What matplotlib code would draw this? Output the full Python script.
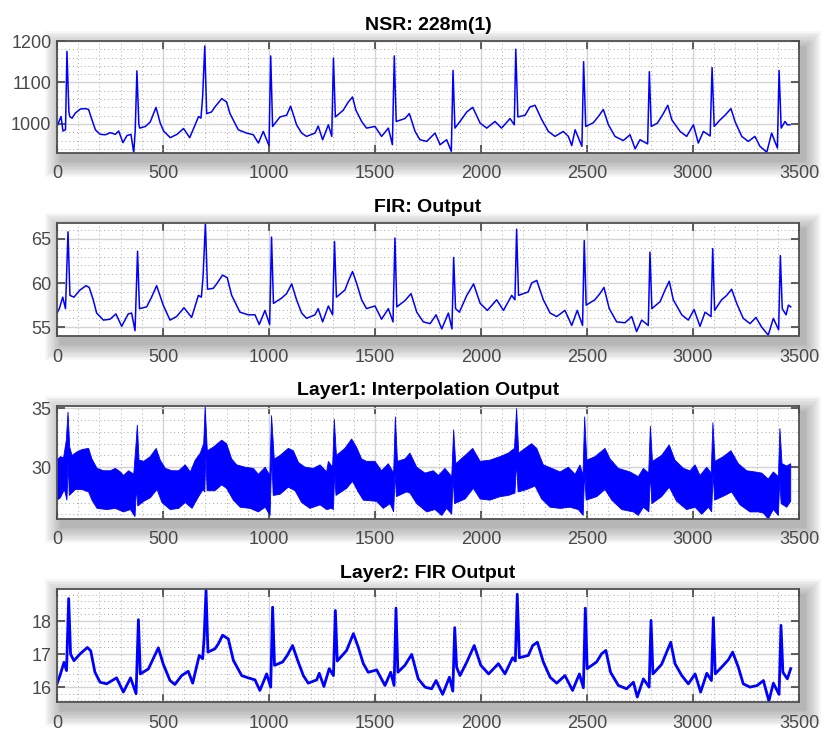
import matplotlib
matplotlib.use('Agg')
import matplotlib.pyplot as plt
from matplotlib.patches import Rectangle
from matplotlib.ticker import MultipleLocator
import numpy as np

plt.rcParams['font.family'] = ['Liberation Sans', 'DejaVu Sans']

# ---------------- data ----------------
titles = ["NSR: 228m(1)", "FIR: Output", "Layer1: Interpolation Output", "Layer2: FIR Output"]
x_ticks = [0, 500, 1000, 1500, 2000, 2500, 3000, 3500]

nsr_x = [0, 19, 28, 40, 47, 56, 60, 71, 86, 110, 134, 149, 165, 181, 204, 228, 252, 275, 291, 311,
         330, 349, 362, 369, 377, 386, 390, 417, 440, 467, 487, 503, 534, 566, 597, 626, 645, 668, 679,
         687, 697, 706, 729, 745, 777, 800, 816, 855, 894, 926, 950, 973, 1000, 1008, 1017, 1052, 1083,
         1102, 1130, 1154, 1177, 1217, 1232, 1253, 1280, 1296, 1304, 1313, 1350, 1374, 1394, 1410, 1437,
         1460, 1500, 1531, 1563, 1582, 1591, 1600, 1641, 1662, 1689, 1712, 1744, 1783, 1807, 1838, 1860,
         1868, 1877, 1901, 1933, 1961, 1996, 2027, 2066, 2097, 2137, 2157, 2164, 2174, 2208, 2231, 2255,
         2287, 2318, 2349, 2388, 2412, 2428, 2444, 2476, 2484, 2494, 2530, 2558, 2577, 2601, 2632, 2671,
         2703, 2727, 2750, 2786, 2794, 2803, 2832, 2860, 2881, 2900, 2939, 2970, 3002, 3025, 3049, 3081,
         3090, 3100, 3128, 3151, 3179, 3198, 3230, 3261, 3292, 3316, 3348, 3371, 3398, 3406, 3416, 3434,
         3445, 3457]
nsr_y = [994, 1018, 983, 986, 1175, 1030, 1018, 1014, 1026, 1036, 1037, 1035, 1010, 986, 975, 974, 979, 975, 983, 955,
         972, 975, 931, 985, 1128, 1000, 990, 994, 1005, 1040, 1002, 983, 967, 975, 989, 967, 990, 1018, 1014,
         1066, 1188, 1025, 1029, 1041, 1061, 1053, 1025, 986, 978, 974, 954, 982, 948, 1164, 994, 1017, 1021,
         1043, 998, 978, 970, 978, 995, 962, 998, 970, 1159, 1017, 1033, 1053, 1065, 1033, 1006,
         990, 994, 970, 990, 950, 1164, 1006, 1013, 1025, 982, 962, 958, 978, 950, 962, 934,
         1129, 990, 1006, 1029, 1040, 1002, 990, 1006, 990, 1013, 998, 1180, 1017, 1021, 1041, 1045,
         1010, 982, 970, 982, 970, 948, 986, 946, 1150, 994, 1003, 1021, 1035, 998, 970, 960,
         974, 940, 962, 952, 1126, 994, 1002, 1025, 1045, 1010, 982, 970, 998, 954, 982, 971,
         1136, 994, 1010, 1021, 1037, 1006, 970, 958, 970, 946, 932, 978, 942, 1129, 990, 1006,
         998, 998]

fir_x = [0, 11, 27, 40, 52, 61, 80, 108, 137, 152, 171, 187, 219, 250, 278, 305, 336, 352, 368, 380,
         389, 423, 446, 470, 501, 533, 564, 599, 635, 667, 681, 689, 700, 710, 737, 753, 781, 803, 824,
         863, 902, 934, 954, 981, 1003, 1012, 1021, 1060, 1083, 1107, 1130, 1154, 1177, 1217, 1232, 1253,
         1280, 1300, 1309, 1318, 1358, 1374, 1394, 1413, 1437, 1460, 1500, 1531, 1563, 1585, 1594, 1603,
         1641, 1670, 1697, 1728, 1760, 1788, 1815, 1846, 1863, 1871, 1880, 1898, 1933, 1965, 1996, 2030,
         2074, 2106, 2145, 2160, 2168, 2177, 2223, 2239, 2263, 2294, 2326, 2357, 2396, 2428, 2454, 2479,
         2487, 2496, 2537, 2561, 2580, 2605, 2640, 2679, 2711, 2734, 2758, 2789, 2797, 2806, 2845, 2868,
         2888, 2907, 2947, 2978, 3005, 3033, 3057, 3085, 3093, 3102, 3135, 3159, 3182, 3206, 3237, 3269,
         3297, 3324, 3355, 3379, 3404, 3412, 3421, 3439, 3450, 3461]
fir_y = [56.6, 57.1, 58.4, 57.1, 65.8, 58.6, 58.4, 59.2, 59.7, 59.5, 58.1, 56.6, 55.8, 55.9, 56.5, 55.1, 56.5, 56.6, 54.6, 63.6,
         57.1, 57.3, 58.4, 59.7, 57.5, 55.8, 56.2, 57.2, 56.1, 58.6, 58.4, 60.7, 66.8, 59.3, 59.4, 59.9, 60.9, 60.6, 58.6,
         56.7, 56.4, 56.4, 55.3, 56.9, 55.3, 65.2, 57.7, 58.3, 58.8, 59.9, 58.1, 56.6, 56.0, 56.4, 57.1, 55.6,
         57.4, 56.4, 64.7, 58.4, 59.2, 60.2, 61.3, 60.0, 58.1, 57.1, 57.4, 55.9, 57.1, 55.6, 65.1, 57.3,
         58.0, 58.8, 56.7, 55.6, 55.4, 56.4, 54.8, 56.6, 54.8, 62.9, 57.1, 56.7, 58.6, 59.9, 57.7, 56.9,
         58.1, 56.9, 58.6, 58.1, 66.1, 58.6, 59.0, 60.0, 60.3, 58.1, 56.6, 56.2, 56.9, 55.2, 56.9, 55.2,
         64.8, 57.5, 58.1, 58.8, 59.5, 57.1, 55.6, 55.5, 56.2, 54.5, 55.8, 55.2, 63.5, 57.1, 57.9, 59.2,
         60.2, 58.1, 56.4, 55.8, 57.0, 55.1, 56.7, 56.2, 63.9, 56.9, 58.1, 58.6, 59.3, 57.7, 56.0, 55.4,
         56.1, 55.0, 54.1, 56.0, 54.7, 63.1, 57.1, 56.4, 57.5, 57.3]

l1_up_x = [0, 16, 31, 44, 52, 60, 71, 94, 118, 149, 165, 189, 220, 252, 275, 299, 314, 338, 362, 373,
           379, 387, 409, 440, 468, 487, 511, 542, 574, 605, 629, 652, 676, 692, 699, 709, 737, 777, 800,
           824, 848, 887, 926, 950, 982, 1004, 1012, 1025, 1052, 1091, 1115, 1139, 1170, 1209, 1241, 1272,
           1280, 1300, 1308, 1318, 1358, 1390, 1413, 1437, 1460, 1500, 1531, 1563, 1588, 1596, 1606, 1641,
           1665, 1697, 1736, 1775, 1799, 1830, 1862, 1871, 1881, 1925, 1961, 1996, 2042, 2090, 2129, 2158,
           2168, 2178, 2208, 2239, 2263, 2294, 2334, 2373, 2412, 2444, 2467, 2481, 2489, 2499, 2538, 2585,
           2609, 2648, 2703, 2742, 2766, 2791, 2799, 2809, 2852, 2888, 2915, 2955, 2986, 3010, 3033, 3065,
           3086, 3094, 3104, 3143, 3179, 3214, 3253, 3292, 3324, 3355, 3379, 3403, 3410, 3420, 3442, 3461]
l1_up_y = [30.6, 30.9, 30.8, 32.3, 34.7, 31.7, 31.0, 31.3, 31.5, 31.6, 30.7, 29.9, 29.7, 29.7, 29.9, 29.6, 29.3, 29.7, 29.4, 32.0,
           33.6, 30.6, 30.5, 30.9, 31.6, 30.6, 29.9, 29.7, 29.7, 30.2, 29.6, 30.6, 31.2, 32.0, 35.2, 31.4, 31.7, 32.3, 32.0,
           30.7, 30.2, 30.0, 29.9, 29.4, 30.0, 29.3, 34.4, 30.7, 31.0, 31.6, 31.4, 30.4, 30.0, 29.9, 30.2, 29.6,
           30.5, 30.0, 34.1, 31.0, 31.6, 32.4, 31.7, 30.7, 30.5, 30.5, 29.7, 30.3, 29.5, 34.3, 30.5, 30.7,
           31.2, 30.0, 29.5, 29.7, 29.3, 29.9, 29.2, 33.2, 30.3, 31.0, 31.6, 30.5, 30.6, 30.9, 31.2, 31.6,
           35.0, 31.2, 31.6, 32.0, 31.6, 30.2, 29.9, 29.6, 30.0, 29.4, 30.2, 29.3, 34.3, 30.6, 30.9, 31.6,
           30.7, 29.9, 29.6, 29.2, 29.9, 29.5, 33.5, 30.5, 31.0, 31.9, 30.6, 29.9, 29.7, 30.2, 29.3, 30.0,
           29.5, 33.8, 30.5, 30.9, 31.4, 30.3, 29.7, 29.6, 29.5, 29.0, 29.6, 29.2, 33.3, 30.3, 30.1, 30.3]

l1_lo_x = [0, 16, 35, 47, 53, 58, 86, 118, 149, 165, 189, 236, 275, 314, 346, 368, 375, 381, 409, 440,
           472, 495, 534, 574, 605, 637, 668, 689, 697, 702, 708, 745, 777, 800, 832, 864, 911, 950, 982,
           1005, 1013, 1020, 1052, 1091, 1123, 1154, 1193, 1241, 1272, 1295, 1304, 1310, 1316, 1366, 1394, 1421,
           1445, 1508, 1539, 1571, 1588, 1595, 1601, 1649, 1665, 1697, 1744, 1783, 1815, 1838, 1862, 1869,
           1875, 1925, 1964, 1996, 2042, 2090, 2129, 2160, 2168, 2175, 2215, 2255, 2286, 2326, 2373, 2420,
           2459, 2482, 2489, 2496, 2546, 2585, 2617, 2664, 2719, 2742, 2766, 2792, 2799, 2806, 2852, 2888,
           2923, 2970, 3010, 3041, 3073, 3088, 3095, 3102, 3151, 3182, 3222, 3269, 3308, 3332, 3355, 3379,
           3403, 3409, 3416, 3442, 3461]
l1_lo_y = [27.2, 27.4, 28.1, 27.2, 30.4, 27.6, 28.1, 28.1, 27.9, 27.2, 26.5, 26.4, 26.5, 26.2, 26.4, 25.8, 28.3, 26.7, 27.1, 27.4,
           28.1, 27.0, 26.4, 26.5, 27.0, 26.5, 27.5, 28.1, 27.9, 31.0, 28.0, 28.0, 28.5, 28.2, 27.2, 26.6, 26.5, 26.2, 26.6,
           25.9, 30.9, 27.6, 27.7, 28.3, 28.0, 27.0, 26.5, 26.8, 26.4, 26.5, 26.4, 29.5, 27.6, 28.2, 28.8, 27.9,
           27.2, 27.1, 26.5, 26.9, 26.2, 29.5, 27.5, 27.9, 27.8, 26.9, 26.2, 26.4, 25.9, 26.5, 26.0, 29.2,
           26.9, 27.3, 28.2, 27.3, 27.2, 27.5, 27.6, 27.8, 30.4, 27.9, 28.1, 28.4, 27.3, 26.6, 26.5, 26.6,
           26.4, 25.9, 29.6, 27.2, 27.5, 28.1, 27.2, 26.4, 26.2, 25.9, 26.6, 26.2, 29.5, 26.9, 27.5, 28.3,
           27.1, 26.4, 26.6, 26.0, 26.6, 26.2, 29.5, 27.2, 27.6, 27.9, 26.8, 26.2, 26.2, 26.1, 25.6, 26.4,
           25.9, 28.9, 26.9, 26.6, 27.1]

l2_x = [0, 14, 33, 45, 55, 64, 80, 108, 143, 159, 179, 203, 234, 281, 313, 347, 373, 384, 393, 431,
        454, 478, 501, 533, 556, 588, 619, 640, 671, 687, 694, 703, 712, 745, 761, 781, 808, 832, 871,
        902, 934, 957, 989, 1008, 1017, 1026, 1064, 1086, 1111, 1138, 1162, 1185, 1225, 1237, 1259, 1284,
        1304, 1313, 1322, 1366, 1398, 1421, 1445, 1468, 1508, 1547, 1574, 1590, 1599, 1608, 1641, 1673,
        1704, 1736, 1767, 1788, 1819, 1851, 1867, 1876, 1885, 1901, 1933, 1968, 1999, 2036, 2082, 2113,
        2149, 2162, 2171, 2181, 2223, 2244, 2266, 2294, 2326, 2357, 2396, 2432, 2464, 2483, 2492, 2501,
        2545, 2569, 2589, 2611, 2648, 2687, 2719, 2737, 2766, 2793, 2802, 2811, 2852, 2876, 2895, 2915,
        2947, 2978, 3010, 3036, 3065, 3087, 3096, 3105, 3143, 3167, 3187, 3214, 3237, 3269, 3303, 3332,
        3358, 3379, 3406, 3415, 3424, 3445, 3461]
l2_y = [16.1, 16.35, 16.75, 16.5, 18.68, 17.0, 16.8, 17.0, 17.2, 17.1, 16.45, 16.15, 16.1, 16.28, 15.85, 16.28, 15.8, 18.04, 16.4, 16.55,
        16.86, 17.19, 16.7, 16.2, 16.08, 16.35, 16.48, 16.12, 16.96, 16.86, 17.5, 18.93, 17.06, 17.16, 17.31, 17.57, 17.46, 16.81, 16.35,
        16.28, 16.22, 15.9, 16.4, 16.0, 18.42, 16.66, 16.76, 16.96, 17.26, 16.76, 16.35, 16.12, 16.22, 16.42, 16.02, 16.56,
        16.35, 18.32, 16.79, 17.11, 17.62, 17.21, 16.71, 16.45, 16.52, 16.05, 16.45, 16.05, 18.39, 16.45, 16.66, 16.99,
        16.25, 16.0, 15.95, 16.2, 15.78, 16.3, 15.88, 17.8, 16.6, 16.35, 16.76, 17.26, 16.66, 16.4, 16.71, 16.4,
        16.89, 16.79, 18.81, 16.89, 16.96, 17.26, 17.36, 16.76, 16.3, 16.12, 16.35, 15.9, 16.4, 15.98, 18.39, 16.56,
        16.76, 17.01, 17.11, 16.45, 16.05, 15.95, 16.15, 15.7, 16.25, 16.0, 18.02, 16.4, 16.69, 17.06, 17.36, 16.71,
        16.35, 16.1, 16.4, 15.85, 16.42, 16.2, 18.1, 16.4, 16.66, 16.83, 17.06, 16.6, 16.1, 16.0, 16.05, 16.2,
        15.58, 16.12, 15.78, 17.87, 16.45, 16.25, 16.56]

y_limits = [(930, 1200), (54.0, 66.8), (25.6, 35.2), (15.55, 18.97)]
y_ticks = [[1000, 1100, 1200], [55, 60, 65], [30, 35], [16, 17, 18]]
y_minor = [20, 1, 1, 0.2]

# ---------------- layout ----------------
W, H = 825, 730
fig = plt.figure(figsize=(W / 100, H / 100), dpi=100)
fig.patch.set_facecolor('white')

# axes boxes in pixels: (left, top, right, bottom)
boxes = [(57, 41, 799, 153), (57, 223, 799, 336), (57, 406, 799, 519), (57, 589, 799, 702)]
axes = []
for (l, t, r, b) in boxes:
    # soft drop shadow
    for i in range(10):
        g = 1.7 * (i + 1)
        rect = Rectangle(((l + 5 - g) / W, 1 - (b + 7 + g) / H), (r - l + 2 * g) / W, (b - t + 2 * g) / H,
                         transform=fig.transFigure, facecolor='black', edgecolor='none',
                         alpha=0.032, zorder=-5)
        fig.patches.append(rect)
    ax = fig.add_axes([l / W, 1 - b / H, (r - l) / W, (b - t) / H])
    axes.append(ax)

blue = '#0000FF'
axes[0].plot(nsr_x, nsr_y, color=blue, lw=1.1)
axes[1].plot(fir_x, fir_y, color=blue, lw=1.1)
poly_x = np.r_[l1_up_x, l1_lo_x[::-1]]
poly_y = np.r_[l1_up_y, l1_lo_y[::-1]]
axes[2].fill(poly_x, poly_y, facecolor=blue, lw=0.6, edgecolor=blue)
axes[3].plot(l2_x, l2_y, color=blue, lw=2.0)

for i, ax in enumerate(axes):
    ax.set_facecolor('white')
    ax.set_xlim(0, 3500)
    ax.set_ylim(*y_limits[i])
    ax.set_xticks(x_ticks)
    ax.set_yticks(y_ticks[i])
    ax.xaxis.set_minor_locator(MultipleLocator(100))
    ax.yaxis.set_minor_locator(MultipleLocator(y_minor[i]))
    ax.grid(True, which='major', color='#d4d4d4', lw=1.0, ls='-')
    ax.grid(True, which='minor', color='#a8a8a8', lw=0.7, ls=(0, (1, 3)))
    ax.set_axisbelow(True)
    ax.tick_params(which='major', direction='in', length=6, width=1.2, color='#444444',
                   top=True, right=True, labelsize=13, labelcolor='#484848')
    ax.tick_params(axis='x', which='major', pad=9)
    ax.tick_params(axis='y', which='major', pad=4)
    ax.tick_params(which='minor', length=0)
    for sp in ax.spines.values():
        sp.set_color('#505050')
        sp.set_linewidth(1.3)
    ax.set_title(titles[i], fontsize=14, fontweight='bold', pad=8, color='black')

fig.savefig('out.png', dpi=100, facecolor='white')
